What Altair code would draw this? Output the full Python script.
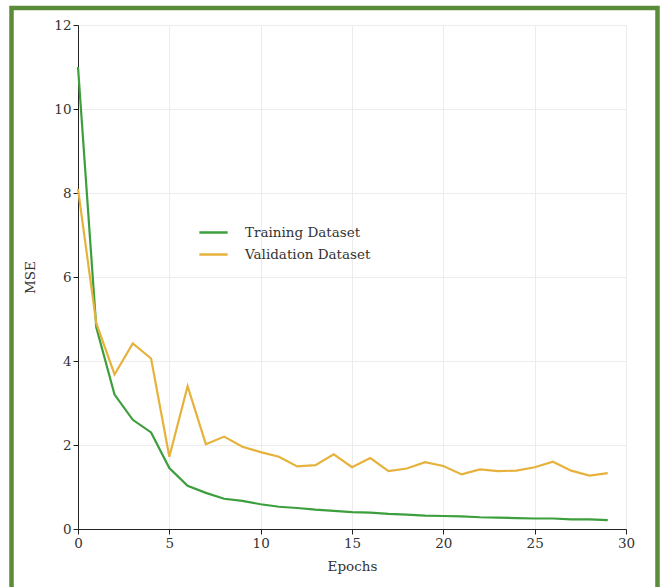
import altair as alt
import pandas as pd

epochs = list(range(30))
training = [11.0, 4.8, 3.2, 2.6, 2.3, 1.45, 1.03, 0.86, 0.72, 0.67,
            0.59, 0.53, 0.50, 0.46, 0.43, 0.40, 0.39, 0.36, 0.34, 0.32,
            0.31, 0.30, 0.28, 0.27, 0.26, 0.25, 0.25, 0.23, 0.23, 0.21]
validation = [8.1, 4.9, 3.68, 4.42, 4.06, 1.72, 3.40, 2.02, 2.20, 1.96,
              1.83, 1.72, 1.49, 1.52, 1.78, 1.47, 1.69, 1.38, 1.44, 1.59,
              1.50, 1.30, 1.42, 1.38, 1.39, 1.47, 1.60, 1.39, 1.27, 1.33]
series_names = ["Training Dataset", "Validation Dataset"]
series_colors = ["#3d9e3d", "#e6b23c"]

df = pd.DataFrame({
    "Epochs": epochs * 2,
    "MSE": training + validation,
    "Series": [series_names[0]] * 30 + [series_names[1]] * 30,
})

FONT = "DejaVu Serif"

lines = alt.Chart(df).mark_line(strokeWidth=2.2).encode(
    x=alt.X("Epochs:Q", scale=alt.Scale(domain=[0, 30], nice=False),
            axis=alt.Axis(values=[0, 5, 10, 15, 20, 25, 30], title="Epochs",
                          labelFlush=False)),
    y=alt.Y("MSE:Q", scale=alt.Scale(domain=[0, 12], nice=False),
            axis=alt.Axis(values=[0, 2, 4, 6, 8, 10, 12], title="MSE",
                          labelFlush=False)),
    color=alt.Color("Series:N",
                    scale=alt.Scale(domain=series_names, range=series_colors),
                    legend=alt.Legend(title=None, orient="none",
                                      legendX=120, legendY=192,
                                      symbolType="stroke", symbolSize=800,
                                      symbolStrokeWidth=2.5,
                                      labelFont=FONT, labelFontSize=13.5,
                                      labelColor="#333333", rowPadding=0,
                                      labelOffset=16)),
)

frame = alt.Chart(pd.DataFrame({"a": [0]})).mark_rect(
    filled=False, stroke="#5b8c3a", strokeWidth=4.5, clip=False
).encode(
    x=alt.value(-66.5), x2=alt.value(579.5),
    y=alt.value(-17), y2=alt.value(580),
)

chart = alt.layer(lines, frame).properties(
    width=548, height=504,
    padding={"left": 78, "top": 25, "right": 34, "bottom": 58},
    autosize=alt.AutoSizeParams(type="none"),
    background="white",
).configure_view(stroke=None).configure_axis(
    labelFont=FONT, titleFont=FONT, labelFontSize=13.5, titleFontSize=13.5,
    labelColor="#333333", titleColor="#333333", titleFontWeight="normal",
    domainColor="#222222", tickColor="#222222", tickSize=5,
    gridColor="#ececec", gridWidth=1,
).configure_axisX(titlePadding=10).configure_axisY(titlePadding=16)

chart.save("out.html", embed_options={"renderer": "svg", "actions": False})
